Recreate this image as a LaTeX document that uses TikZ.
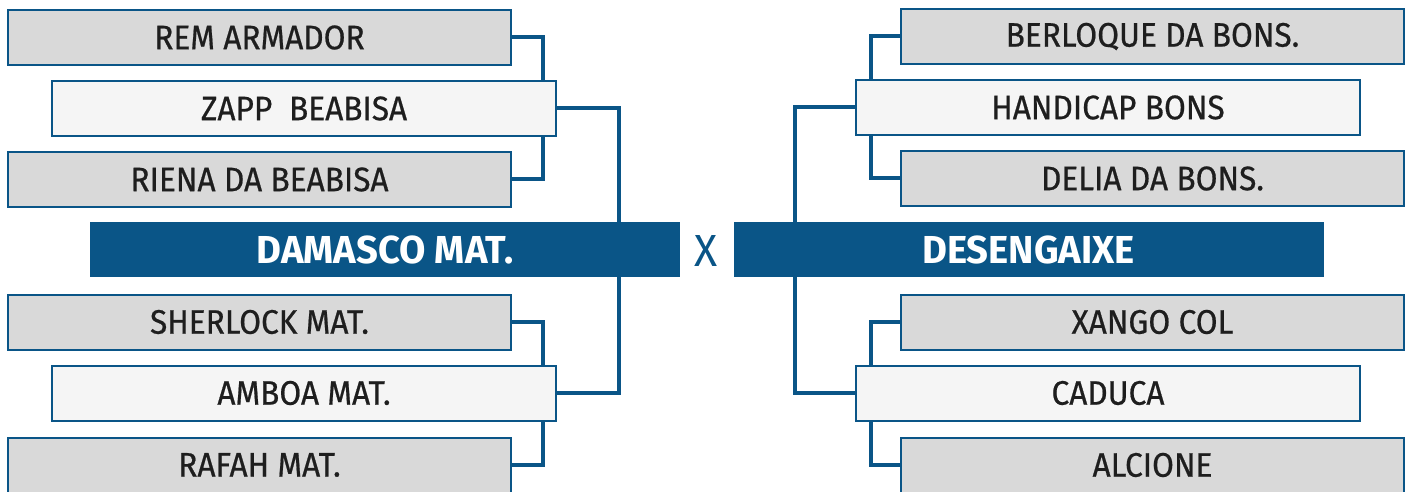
\documentclass[tikz,border=0pt]{standalone}
\usepackage{fontspec}
\setmainfont{Fira Sans}[FakeStretch=0.93,FakeBold=0.6]
\newfontfamily\boldfnt{Fira Sans}[FakeStretch=0.98,UprightFont=* Bold]
\newfontfamily\xfnt{Fira Sans}[FakeStretch=0.95]
\definecolor{navy}{HTML}{0A5587}
\definecolor{boxgray}{HTML}{D9D9D9}
\definecolor{boxlight}{HTML}{F5F5F5}
\definecolor{txt}{HTML}{1E1E1E}
\begin{document}
\begin{tikzpicture}[x=0.5pt,y=-0.5pt,
  base/.style={draw=navy,line width=1pt,inner sep=0pt,minimum height=27.5pt,
    text=txt,font=\fontsize{17}{19}\selectfont},
  grayl/.style={base,fill=boxgray,minimum width=251.5pt},
  lightl/.style={base,fill=boxlight,minimum width=252pt},
  bar/.style={fill=navy,inner sep=0pt,minimum height=27.5pt,minimum width=295pt,
    text=white,font=\boldfnt\fontsize{19.5}{21}\selectfont},
  conn/.style={draw=navy,line width=2pt}]
\useasboundingbox (0,0) rectangle (1410,492);
% left side
\node[grayl]  (rem)  at (259.5,37.5) {REM ARMADOR};
\node[lightl] (zapp) at (304,108.5) {ZAPP\ \ BEABISA};
\node[grayl]  (rie)  at (259.5,179.5) {RIENA DA BEABISA};
\node[grayl]  (she)  at (259.5,322) {SHERLOCK MAT.};
\node[lightl] (amb)  at (304,393) {AMBOA MAT.};
\node[grayl]  (raf)  at (259.5,465) {RAFAH MAT.};
% right side
\node[grayl]  (ber)  at (1152.5,36.5) {BERLOQUE DA BONS.};
\node[lightl] (han)  at (1108,107.5) {HANDICAP BONS};
\node[grayl]  (del)  at (1152.5,178.5) {DELIA DA BONS.};
\node[grayl]  (xan)  at (1152.5,322) {XANGO COL};
\node[lightl] (cad)  at (1108,393) {CADUCA};
\node[grayl]  (alc)  at (1152.5,465) {ALCIONE};
% coordinates of vertical runs
\coordinate (li) at (543,0);
\coordinate (lo) at (619,0);
\coordinate (ri) at (871,0);
\coordinate (ro) at (795,0);
% connectors
\draw[conn] (rem.east) -| (li |- zapp.north);
\draw[conn] (rie.east) -| (li |- zapp.south);
\draw[conn] (she.east) -| (li |- amb.north);
\draw[conn] (raf.east) -| (li |- amb.south);
\draw[conn] (zapp.east) -| (lo |- 0,260);
\draw[conn] (amb.east) -| (lo |- 0,240);
\draw[conn] (ber.west) -| (ri |- han.north);
\draw[conn] (del.west) -| (ri |- han.south);
\draw[conn] (xan.west) -| (ri |- cad.north);
\draw[conn] (alc.west) -| (ri |- cad.south);
\draw[conn] (han.west) -| (ro |- 0,260);
\draw[conn] (cad.west) -| (ro |- 0,240);
% bars
\node[bar] (dam) at (385,249.5) {DAMASCO MAT.};
\node[bar] (des) at (1028.5,249.5) {DESENGAIXE};
\node[text=navy,font=\xfnt\fontsize{22.5}{24}\selectfont,inner sep=0pt] (vs) at (706.5,251) {X};
\end{tikzpicture}
\end{document}
